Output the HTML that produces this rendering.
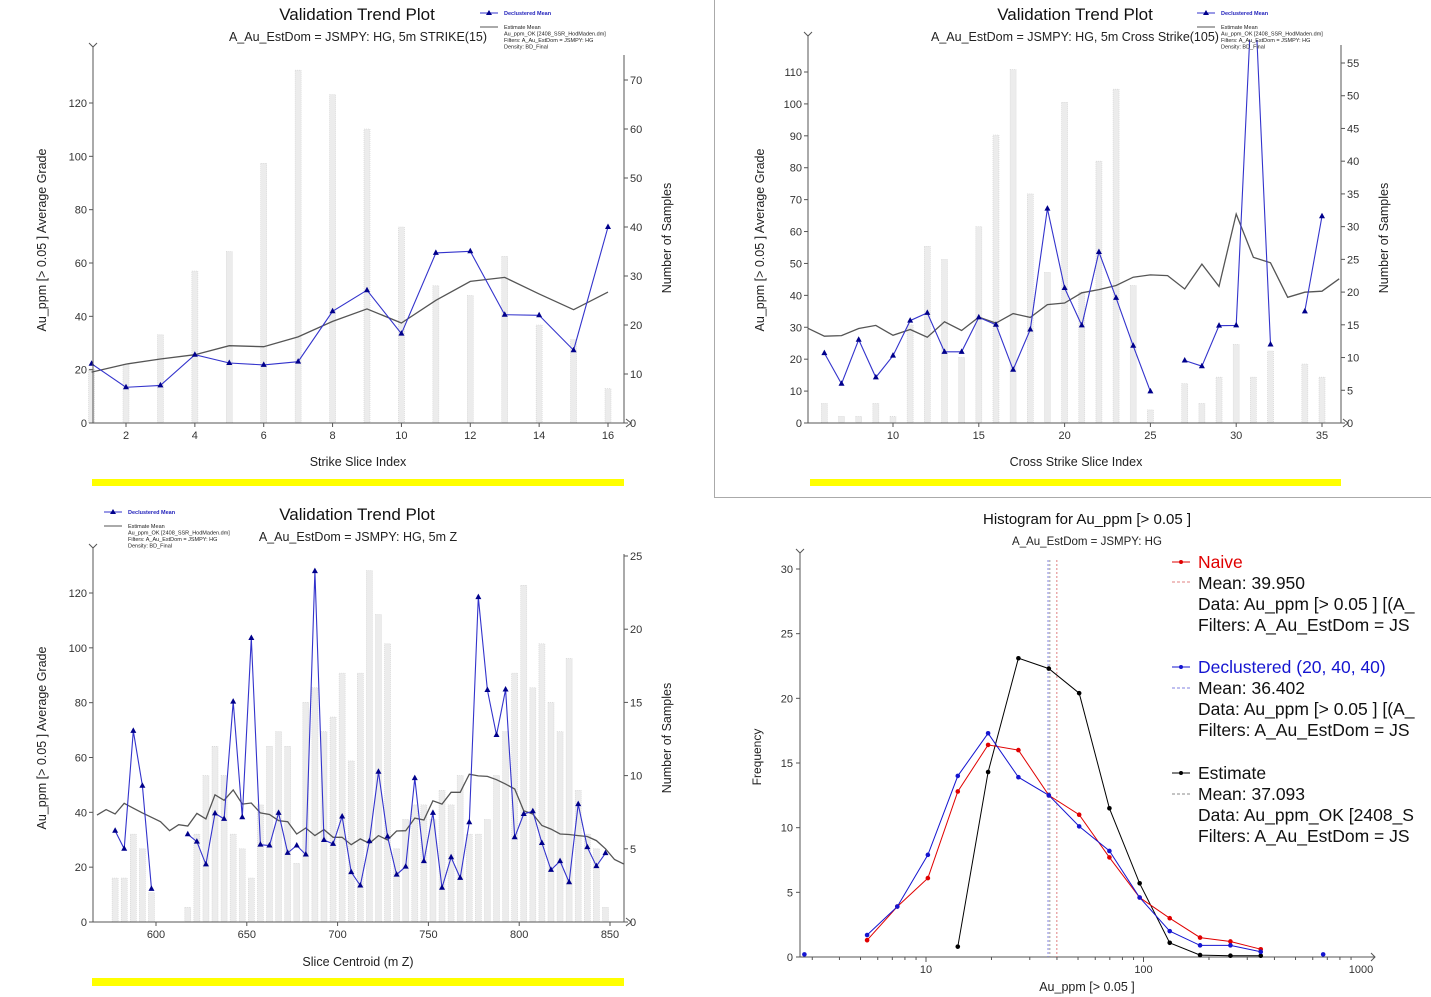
<!DOCTYPE html>
<html><head><meta charset="utf-8">
<style>
html,body{margin:0;padding:0;background:#fff;}
svg{display:block;font-family:"Liberation Sans",sans-serif;}
.t{font-size:11px;fill:#333}
</style></head>
<body>
<svg id="s" width="1431" height="997" viewBox="0 0 1431 997" xmlns="http://www.w3.org/2000/svg">
<defs>
<clipPath id="c2"><rect x="808" y="40" width="533" height="384"/></clipPath>
</defs>
<rect x="0" y="0" width="1431" height="997" fill="#fff"/>
<!-- top-right panel frame -->
<path d="M714.5 0 V497.5 H1431" fill="none" stroke="#aaa"/>
<!-- yellow bars -->
<rect x="92" y="479" width="532" height="7" fill="#ffff00"/>
<rect x="810" y="479" width="531" height="7" fill="#ffff00"/>
<rect x="92" y="978" width="532" height="8" fill="#ffff00"/>

<!-- titles -->
<text x="357" y="20" font-size="17" text-anchor="middle" fill="#111">Validation Trend Plot</text>
<text x="358" y="41" font-size="12.5" text-anchor="middle" fill="#222">A_Au_EstDom = JSMPY: HG, 5m STRIKE(15)</text>
<text x="1075" y="20" font-size="17" text-anchor="middle" fill="#111">Validation Trend Plot</text>
<text x="1075" y="41" font-size="12.5" text-anchor="middle" fill="#222">A_Au_EstDom = JSMPY: HG, 5m Cross Strike(105)</text>
<text x="357" y="520" font-size="17" text-anchor="middle" fill="#111">Validation Trend Plot</text>
<text x="358" y="541" font-size="12.5" text-anchor="middle" fill="#222">A_Au_EstDom = JSMPY: HG, 5m Z</text>

<!-- axis titles -->
<text transform="translate(46,240) rotate(-90)" font-size="12.5" text-anchor="middle" fill="#222">Au_ppm [&gt; 0.05 ] Average Grade</text>
<text transform="translate(671,238) rotate(-90)" font-size="12.5" text-anchor="middle" fill="#222">Number of Samples</text>
<text x="358" y="466" font-size="12.5" text-anchor="middle" fill="#222">Strike Slice Index</text>
<text transform="translate(764,240) rotate(-90)" font-size="12.5" text-anchor="middle" fill="#222">Au_ppm [&gt; 0.05 ] Average Grade</text>
<text transform="translate(1388,238) rotate(-90)" font-size="12.5" text-anchor="middle" fill="#222">Number of Samples</text>
<text x="1076" y="466" font-size="12.5" text-anchor="middle" fill="#222">Cross Strike Slice Index</text>
<text transform="translate(46,738) rotate(-90)" font-size="12.5" text-anchor="middle" fill="#222">Au_ppm [&gt; 0.05 ] Average Grade</text>
<text transform="translate(671,738) rotate(-90)" font-size="12.5" text-anchor="middle" fill="#222">Number of Samples</text>
<text x="358" y="966" font-size="12.5" text-anchor="middle" fill="#222">Slice Centroid (m Z)</text>

<!-- histogram titles -->
<text x="1087" y="524" font-size="15" text-anchor="middle" fill="#111">Histogram for Au_ppm [&gt; 0.05 ]</text>
<text x="1087" y="545" font-size="11.5" text-anchor="middle" fill="#222">A_Au_EstDom = JSMPY: HG</text>
<text transform="translate(761,757) rotate(-90)" font-size="12" text-anchor="middle" fill="#222">Frequency</text>
<text x="1087" y="991" font-size="12.5" text-anchor="middle" fill="#222">Au_ppm [&gt; 0.05 ]</text>

<!-- histogram legend -->
<g font-size="17.5">
<line x1="1172" y1="562" x2="1190" y2="562" stroke="#e00000"/><circle cx="1181" cy="562" r="2" fill="#e00000"/>
<text x="1198" y="568" fill="#e00000">Naive</text>
<line x1="1172" y1="582" x2="1190" y2="582" stroke="#e08080" stroke-dasharray="3,2"/>
<text x="1198" y="589" fill="#111">Mean: 39.950</text>
<text x="1198" y="610" fill="#111">Data: Au_ppm [&gt; 0.05 ] [(A_</text>
<text x="1198" y="631" fill="#111">Filters: A_Au_EstDom = JS</text>
<line x1="1172" y1="667" x2="1190" y2="667" stroke="#1515d0"/><circle cx="1181" cy="667" r="2" fill="#1515d0"/>
<text x="1198" y="673" fill="#1515d0">Declustered (20, 40, 40)</text>
<line x1="1172" y1="688" x2="1190" y2="688" stroke="#8080e0" stroke-dasharray="3,2"/>
<text x="1198" y="694" fill="#111">Mean: 36.402</text>
<text x="1198" y="715" fill="#111">Data: Au_ppm [&gt; 0.05 ] [(A_</text>
<text x="1198" y="736" fill="#111">Filters: A_Au_EstDom = JS</text>
<line x1="1172" y1="773" x2="1190" y2="773" stroke="#000"/><circle cx="1181" cy="773" r="2" fill="#000"/>
<text x="1198" y="779" fill="#111">Estimate</text>
<line x1="1172" y1="794" x2="1190" y2="794" stroke="#888" stroke-dasharray="3,2"/>
<text x="1198" y="800" fill="#111">Mean: 37.093</text>
<text x="1198" y="821" fill="#111">Data: Au_ppm_OK [2408_S</text>
<text x="1198" y="842" fill="#111">Filters: A_Au_EstDom = JS</text>
</g>

<g id="g1"></g>
<g id="g2"></g>
<g id="g3"></g>
<g id="g4"></g>
</svg>
<script>
// ---- Chart 1: strike ----
const c1Index = [1,2,3,4,5,6,7,8,9,10,11,12,13,14,15,16];
const c1Counts = [11,12,18,31,35,53,72,67,60,40,28,26,34,20,17,7];
const c1Declus = [22.2,13.4,14.1,25.6,22.5,21.8,23,41.9,49.8,33.5,63.8,64.4,40.6,40.4,27.3,73.5];
const c1Estimate = [19.1,22.1,24,25.6,29,28.6,32.3,38.1,42.8,37.5,46,53.1,54.6,48.4,42.5,49.1];
const c1XTicks = [2,4,6,8,10,12,14,16];
const c1YTicks = [0,20,40,60,80,100,120];
const c1Y2Ticks = [0,10,20,30,40,50,60,70];
// ---- Chart 2: cross strike ----
const c2Index = [6,7,8,9,10,11,12,13,14,15,16,17,18,19,20,21,22,23,24,25,26,27,28,29,30,31,32,33,34,35];
const c2Counts = [3,1,1,3,1,15,27,25,10,30,44,54,35,23,49,20,40,51,21,2,0,6,3,7,12,7,11,0,9,7];
const c2Declus = [21.9,12.3,26.1,14.3,21.1,32.1,34.5,22.3,22.3,33.1,30.8,16.7,29.3,67.2,42.3,30.6,53.6,39.2,24.2,9.9,null,19.6,17.8,30.5,30.6,145,24.6,null,35,64.8];
const c2EstIndex = [5,6,7,8,9,10,11,12,13,14,15,16,17,18,19,20,21,22,23,24,25,26,27,28,29,30,31,32,33,34,35,36];
const c2Estimate = [29.8,27.2,27.4,29.6,30.6,27.5,29.3,26.9,31.7,29,33.2,31.3,34.3,33.1,37.1,37.6,40.8,41.8,43.1,45.7,46.4,46.2,42,49.8,42.8,65.5,51.9,50.2,39.4,41,41.3,45.2];
const c2XTicks = [10,15,20,25,30,35];
const c2YTicks = [0,10,20,30,40,50,60,70,80,90,100,110];
const c2Y2Ticks = [0,5,10,15,20,25,30,35,40,45,50,55];
// ---- Chart 3: Z ----
const c3Centroid = [577.5,582.5,587.5,592.5,597.5,602.5,607.5,612.5,617.5,622.5,627.5,632.5,637.5,642.5,647.5,652.5,657.5,662.5,667.5,672.5,677.5,682.5,687.5,692.5,697.5,702.5,707.5,712.5,717.5,722.5,727.5,732.5,737.5,742.5,747.5,752.5,757.5,762.5,767.5,772.5,777.5,782.5,787.5,792.5,797.5,802.5,807.5,812.5,817.5,822.5,827.5,832.5,837.5,842.5,847.5];
const c3Counts = [3,3,6,5,2,0,0,0,1,6,10,12,10,6,5,3,8,12,13,12,4,15,16,13,14,17,11,17,24,21,19,5,7,8,8,7,9,8,10,6,6,7,10,13,17,23,16,19,15,13,18,9,6,5,1];
const c3Declus = [33.3,26.7,69.7,49.7,12.1,null,null,null,32,29.3,21,39.6,37.6,80.4,38.2,103.6,28.2,27.9,39.8,25.2,27.9,24.6,128,29.9,28.5,38.5,18.2,13.3,29.5,54.8,31.2,17.3,20.2,52.5,22.2,39.8,12.5,23.6,16.1,36.4,118.5,84.6,68.2,84.8,30.9,39.4,40.4,28.8,19,22.2,14.5,43,27.3,20.4,25.1];
const c3EstCentroid = [567.5,572.5,577.5,582.5,587.5,592.5,597.5,602.5,607.5,612.5,617.5,622.5,627.5,632.5,637.5,642.5,647.5,652.5,657.5,662.5,667.5,672.5,677.5,682.5,687.5,692.5,697.5,702.5,707.5,712.5,717.5,722.5,727.5,732.5,737.5,742.5,747.5,752.5,757.5,762.5,767.5,772.5,777.5,782.5,787.5,792.5,797.5,802.5,807.5,812.5,817.5,822.5,827.5,832.5,837.5,842.5,847.5,852.5,857.5];
const c3Estimate = [39,41,39.4,43.3,41.5,39.8,38.2,36.6,33.3,35.5,35,39.6,37.6,46.4,44.4,48.2,43,43.4,39.8,39.2,37,36.6,32.1,34.3,31.5,33.7,30.9,30.9,28.2,30.3,28.7,31.5,29.9,33.2,33.3,37.9,37.2,44.2,43,47.3,47.3,53.9,53.3,53.1,51.9,50.3,48.5,40.6,39.4,35.2,33.9,32.1,31.9,31.5,31.2,29.7,26.7,22.8,21.2];
const c3XTicks = [600,650,700,750,800,850];
const c3YTicks = [0,20,40,60,80,100,120];
const c3Y2Ticks = [0,5,10,15,20,25];
// ---- Chart 4: histogram ----
const hBins = [5.36,7.38,10.2,14,19.3,26.6,36.7,50.6,69.7,96,132,182,251,346];
const hNaive = [1.3,3.9,6.1,12.8,16.4,16,12.5,11,7.7,4.6,3,1.5,1.2,0.6];
const hDeclus = [1.7,3.9,7.9,14,17.3,13.9,12.5,10.1,8.2,4.6,2,0.9,0.9,0.4];
const hDeclusOutX = [2.76,670];
const hDeclusOutY = [0.2,0.2];
const hEstBins = [14,19.3,26.6,36.7,50.6,69.7,96,132,182,251,346];
const hEstimate = [0.8,14.3,23.1,22.3,20.4,11.5,5.7,1.1,0.15,0.1,0.1];
const hMeans = [39.950,36.402,37.093];
const hYTicks = [0,5,10,15,20,25,30];
const hXTicks = [10,100,1000];

const NS='http://www.w3.org/2000/svg';
function mk(parent,tag,attrs){const e=document.createElementNS(NS,tag);for(const k in attrs)e.setAttribute(k,attrs[k]);parent.appendChild(e);return e;}
function lin(d0,d1,r0,r1){return v=>r0+(v-d0)*(r1-r0)/(d1-d0);}

function trend(g,o){
  const X=o.X,Y=o.Y,Y2=o.Y2;
  const bg=mk(g,'g',{});
  if(o.clip) bg.setAttribute('clip-path',o.clip);
  // bars
  o.bx.forEach((v,i)=>{ if(!o.counts[i]) return;
    const y=Y2(o.counts[i]);
    const r=mk(bg,'rect',{x:X(v)-3,y:y,width:6,height:o.y0-y,fill:'#ececec',stroke:'#d0d0d0','stroke-width':0.6,'stroke-dasharray':'1,1'});
    
    
  });
  // estimate line
  let d='';o.ex.forEach((v,i)=>{d+=(i?'L':'M')+X(v).toFixed(1)+' '+Y(o.est[i]).toFixed(1);});
  const el=mk(bg,'path',{d:d,fill:'none',stroke:'#555','stroke-width':1.3});
  
  
  // declustered line
  let dd='',pen=false;
  o.bx.forEach((v,i)=>{const val=o.dm[i];if(val==null){pen=false;return;}dd+=(pen?'L':'M')+X(v).toFixed(1)+' '+Y(val).toFixed(1);pen=true;});
  const dl=mk(bg,'path',{d:dd,fill:'none',stroke:'#3333cc','stroke-width':1.1});
  
  
  o.bx.forEach((v,i)=>{const val=o.dm[i];if(val==null)return;const x=X(v),y=Y(val);
    const m=mk(bg,'path',{d:`M${x} ${y-3.5}L${x+3} ${y+2}L${x-3} ${y+2}Z`,fill:'#00008b'});
    
    
  });
  // axes
  const ax=mk(g,'g',{stroke:'#555','stroke-width':1,fill:'none'});
  mk(ax,'path',{d:`M${o.xl} ${o.top}V${o.y0}H${o.xr}M${o.xr} ${o.top2}V${o.y0}`});
  mk(ax,'path',{d:`M${o.xl-4} ${o.top-4}L${o.xl} ${o.top}L${o.xl+4} ${o.top-4}`});
  mk(ax,'path',{d:`M${o.xr+2} ${o.y0-4}L${o.xr+7} ${o.y0}L${o.xr+2} ${o.y0+4}`});
  o.yt.forEach(t=>{const y=Y(t);mk(ax,'line',{x1:o.xl-4,y1:y,x2:o.xl,y2:y});
    const tx=mk(g,'text',{x:o.xl-6,y:y+4,'text-anchor':'end',class:'t'});tx.textContent=t;
    });
  o.y2t.forEach(t=>{const y=Y2(t);mk(ax,'line',{x1:o.xr,y1:y,x2:o.xr+4,y2:y});
    const tx=mk(g,'text',{x:o.xr+6,y:y+4,class:'t'});tx.textContent=t;
    });
  o.xt.forEach(t=>{const x=X(t);mk(ax,'line',{x1:x,y1:o.y0,x2:x,y2:o.y0+4});
    const tx=mk(g,'text',{x:x,y:o.y0+16,'text-anchor':'middle',class:'t'});tx.textContent=t;
    });
  // legend
  const lg=mk(g,'g',{'font-size':'5.5',fill:'#222'});
  
  
  const lx=o.lx,ly=o.ly;
  mk(lg,'line',{x1:lx,y1:ly,x2:lx+18,y2:ly,stroke:'#3333cc'});
  mk(lg,'path',{d:`M${lx+9} ${ly-3}L${lx+12} ${ly+2}L${lx+6} ${ly+2}Z`,fill:'#00008b'});
  let t=mk(lg,'text',{x:lx+24,y:ly+2,fill:'#2222bb','font-weight':'bold'});t.textContent='Declustered Mean';
  mk(lg,'line',{x1:lx,y1:ly+14,x2:lx+18,y2:ly+14,stroke:'#555'});
  ['Estimate Mean','Au_ppm_OK [2408_SSR_HodMaden.dm]','Filters: A_Au_EstDom = JSMPY: HG','Density: BD_Final'].forEach((s,i)=>{
    const tt=mk(lg,'text',{x:lx+24,y:ly+16+i*6.5});tt.textContent=s;});
}

// chart 1
trend(document.getElementById('g1'),{X:lin(2,16,126,608),Y:lin(0,120,423,103),Y2:lin(0,70,423,80),y0:423,xl:93,xr:624,top:47,top2:55,
  bx:c1Index,counts:c1Counts,dm:c1Declus,ex:c1Index,est:c1Estimate,xt:c1XTicks,yt:c1YTicks,y2t:c1Y2Ticks,lx:480,ly:13});
// chart 2
trend(document.getElementById('g2'),{X:lin(10,35,893,1322),Y:lin(0,110,423,72),Y2:lin(0,55,423,63),y0:423,xl:808,xr:1341,top:36,top2:45,clip:'url(#c2)',
  bx:c2Index,counts:c2Counts,dm:c2Declus,ex:c2EstIndex,est:c2Estimate,xt:c2XTicks,yt:c2YTicks,y2t:c2Y2Ticks,lx:1197,ly:13});
// chart 3
trend(document.getElementById('g3'),{X:lin(600,850,156,610),Y:lin(0,120,922,593),Y2:lin(0,25,922,556),y0:922,xl:93,xr:624,top:548,top2:554,
  bx:c3Centroid,counts:c3Counts,dm:c3Declus,ex:c3EstCentroid,est:c3Estimate,xt:c3XTicks,yt:c3YTicks,y2t:c3Y2Ticks,lx:104,ly:512});

// histogram
(function(){
  const g=document.getElementById('g4');
  const X=v=>926+(Math.log10(v)-1)*217.5, Y=lin(0,30,957,569);
  const ax=mk(g,'g',{stroke:'#555',fill:'none'});
  mk(ax,'path',{d:'M800 553V957H1375'});
  mk(ax,'path',{d:'M796 549L800 553L804 549'});
  mk(ax,'path',{d:'M1371 953L1375 957L1371 961'});
  hYTicks.forEach(t=>{const y=Y(t);mk(ax,'line',{x1:796,y1:y,x2:800,y2:y});
    const tx=mk(g,'text',{x:793,y:y+4,'text-anchor':'end',class:'t'});tx.textContent=t;
    });
  for(let dec=1;dec<=3;dec++)for(let k=1;k<10;k++){const v=k*Math.pow(10,dec-1);const x=X(v);if(x<800||x>1372)continue;
    mk(ax,'line',{x1:x,y1:957,x2:x,y2:k==1?962:960});}
  hXTicks.forEach(t=>{const tx=mk(g,'text',{x:X(t),y:973,'text-anchor':'middle',class:'t'});tx.textContent=t;
    });
  const cols=['#e08080','#8080e0','#999'];
  hMeans.forEach((m,i)=>{const l=mk(g,'line',{x1:X(m),y1:560,x2:X(m),y2:957,stroke:cols[i],'stroke-dasharray':'2,2'});
    });
  function series(xs,ys,c,name){let d='';xs.forEach((v,i)=>{d+=(i?'L':'M')+X(v).toFixed(1)+' '+Y(ys[i]).toFixed(1);});
    const p=mk(g,'path',{d:d,fill:'none',stroke:c,'stroke-width':1});
    
    xs.forEach((v,i)=>{const c0=mk(g,'circle',{cx:X(v),cy:Y(ys[i]),r:2.3,fill:c});
      });}
  series(hEstBins,hEstimate,'#000','estimate');
  series(hBins,hNaive,'#e00000','naive');
  series(hBins,hDeclus,'#1515d0','declustered');
  hDeclusOutX.forEach((v,i)=>{const c0=mk(g,'circle',{cx:X(v),cy:Y(hDeclusOutY[i]),r:2.3,fill:'#1515d0'});
    });
})();
</script>
</body></html>
